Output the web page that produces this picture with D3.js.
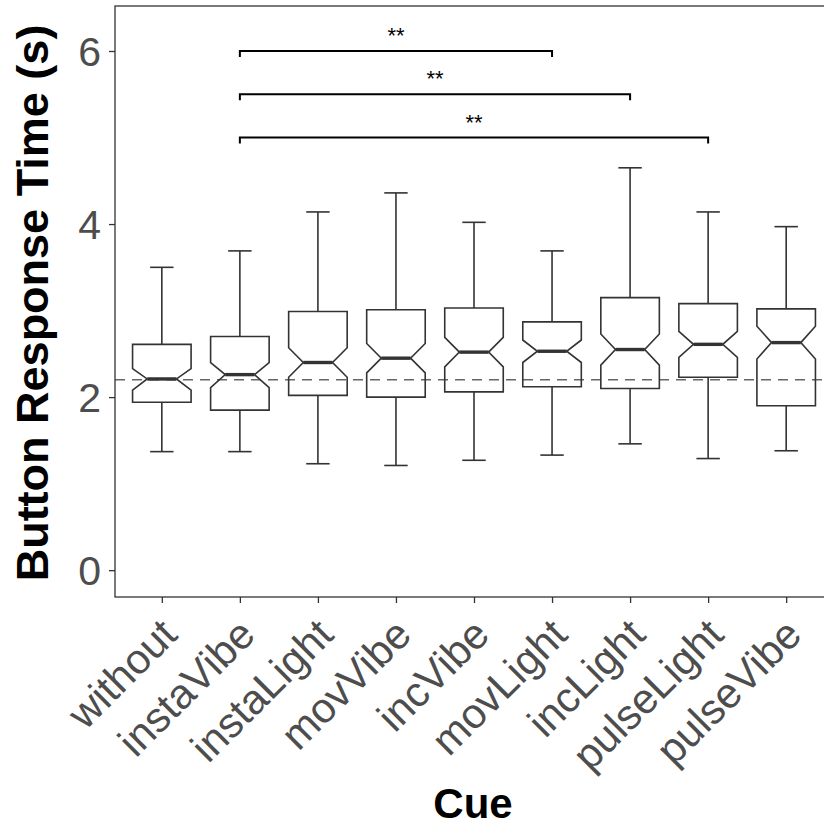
<!DOCTYPE html>
<html>
<head>
<meta charset="utf-8">
<script src="https://cdn.jsdelivr.net/npm/d3@7"></script>
<style>
  html, body { margin: 0; padding: 0; background: #fff; }
  svg { display: block; font-family: "Liberation Sans", Arial, Helvetica, sans-serif; }
</style>
</head>
<body>
<svg id="chart" width="824" height="828"></svg>
<script>
// Cue conditions (x categories)
const cues = ["without", "instaVibe", "instaLight", "movVibe", "incVibe",
              "movLight", "incLight", "pulseLight", "pulseVibe"];

// Five-number summaries and notch bounds per cue (seconds)
const whiskerLow  = [1.37, 1.37, 1.23, 1.21, 1.27, 1.33, 1.46, 1.29, 1.38];
const q1          = [1.94, 1.85, 2.02, 2.00, 2.06, 2.12, 2.10, 2.23, 1.90];
const notchLow    = [2.08, 2.11, 2.23, 2.28, 2.35, 2.40, 2.37, 2.46, 2.44];
const medians     = [2.21, 2.26, 2.40, 2.45, 2.52, 2.53, 2.55, 2.61, 2.63];
const notchHigh   = [2.33, 2.40, 2.57, 2.62, 2.69, 2.66, 2.73, 2.76, 2.82];
const q3          = [2.61, 2.70, 2.99, 3.01, 3.03, 2.87, 3.15, 3.08, 3.02];
const whiskerHigh = [3.50, 3.69, 4.14, 4.36, 4.02, 3.69, 4.65, 4.14, 3.97];

// Reference response time
const referenceLine = 2.2;

// Pairwise significance brackets
const bracketFrom  = ["instaVibe", "instaVibe", "instaVibe"];
const bracketTo    = ["movLight", "incLight", "pulseLight"];
const bracketY     = [6.0, 5.5, 5.0];
const bracketLabel = ["**", "**", "**"];

const yTicks = [0, 2, 4, 6];

const svg = d3.select("#chart");
const panel = { left: 115, top: 6, right: 833, bottom: 597 };

const x = d3.scalePoint().domain(cues).range([panel.left, panel.right]).padding(0.6);
const step = x.step();
const y = d3.scaleLinear().domain([-0.31, 6.52]).range([panel.bottom, panel.top]);

const ink = "#333333";
const tickText = "#4d4d4d";

// Reference dashed line
svg.append("line")
  .attr("x1", panel.left).attr("x2", panel.right)
  .attr("y1", y(referenceLine)).attr("y2", y(referenceLine))
  .attr("stroke", "#666").attr("stroke-width", 1.4)
  .attr("stroke-dasharray", "10,7");

// Boxes
const boxW = step * 0.75, capW = step * 0.3, notchInset = boxW * 0.25;
const data = cues.map((c, i) => ({
  cue: c, lo: whiskerLow[i], q1: q1[i], nl: notchLow[i], med: medians[i],
  nh: notchHigh[i], q3: q3[i], hi: whiskerHigh[i]
}));

const g = svg.append("g");
data.forEach(d => {
  const cx = x(d.cue), x0 = cx - boxW / 2, x1 = cx + boxW / 2;
  const grp = g.append("g");
  // whiskers
  grp.append("line").attr("x1", cx).attr("x2", cx).attr("y1", y(d.q3)).attr("y2", y(d.hi))
    .attr("stroke", ink).attr("stroke-width", 1.6);
  grp.append("line").attr("x1", cx).attr("x2", cx).attr("y1", y(d.q1)).attr("y2", y(d.lo))
    .attr("stroke", ink).attr("stroke-width", 1.6);
  [d.hi, d.lo].forEach(v => {
    grp.append("line").attr("x1", cx - capW / 2).attr("x2", cx + capW / 2)
      .attr("y1", y(v)).attr("y2", y(v)).attr("stroke", ink).attr("stroke-width", 1.6);
  });
  // notched box outline
  const pts = [
    [x0, y(d.q3)], [x0, y(d.nh)], [x0 + notchInset, y(d.med)], [x0, y(d.nl)], [x0, y(d.q1)],
    [x1, y(d.q1)], [x1, y(d.nl)], [x1 - notchInset, y(d.med)], [x1, y(d.nh)], [x1, y(d.q3)]
  ];
  grp.append("path").attr("d", d3.line()(pts) + "Z")
    .attr("fill", "none").attr("stroke", ink).attr("stroke-width", 1.6)
    .attr("stroke-linejoin", "miter");
  // median
  grp.append("line").attr("x1", x0 + notchInset).attr("x2", x1 - notchInset)
    .attr("y1", y(d.med)).attr("y2", y(d.med)).attr("stroke", ink).attr("stroke-width", 3.4);
});

// Significance brackets
const tip = 0.07;
bracketFrom.forEach((f, i) => {
  const xa = x(f), xb = x(bracketTo[i]), yy = y(bracketY[i]), yt = y(bracketY[i] - tip);
  svg.append("path").attr("d", `M${xa},${yt}V${yy}H${xb}V${yt}`)
    .attr("fill", "none").attr("stroke", "#000").attr("stroke-width", 2);
  svg.append("text").attr("x", (xa + xb) / 2).attr("y", yy - 8)
    .attr("text-anchor", "middle").attr("font-size", 22).attr("fill", "#000")
    .text(bracketLabel[i]);
});

// Panel border (top, left, bottom; right side lies beyond the canvas)
svg.append("rect").attr("x", panel.left).attr("y", panel.top)
  .attr("width", panel.right - panel.left).attr("height", panel.bottom - panel.top)
  .attr("fill", "none").attr("stroke", ink).attr("stroke-width", 1.3);

// Y axis
const yAxis = svg.append("g").attr("transform", `translate(${panel.left},0)`)
  .call(d3.axisLeft(y).tickValues(yTicks).tickSize(6).tickPadding(8).tickFormat(d3.format("d")));
yAxis.select(".domain").remove();
yAxis.selectAll(".tick line").attr("stroke", ink).attr("stroke-width", 1.3);
yAxis.selectAll(".tick text").attr("font-size", 41).attr("fill", tickText)
  .attr("font-family", "Liberation Sans, Arial, sans-serif").attr("dy", "0.36em");

// X axis
const xAxis = svg.append("g").attr("transform", `translate(0,${panel.bottom})`)
  .call(d3.axisBottom(x).tickSize(6).tickFormat(""));
xAxis.select(".domain").remove();
xAxis.selectAll(".tick line").attr("stroke", ink).attr("stroke-width", 1.3);
xAxis.selectAll(".tick").append("text")
  .attr("transform", "translate(17,40) rotate(-45)")
  .attr("text-anchor", "end").attr("font-size", 42).attr("fill", tickText)
  .attr("font-family", "Liberation Sans, Arial, sans-serif")
  .text(d => d);

// Axis titles
svg.append("text").attr("x", 473).attr("y", 818).attr("text-anchor", "middle")
  .attr("font-size", 42).attr("font-weight", "bold").attr("fill", "#000").text("Cue");
svg.append("text").attr("transform", "translate(48,303) rotate(-90)")
  .attr("text-anchor", "middle").attr("font-size", 45).attr("font-weight", "bold")
  .attr("fill", "#000").text("Button Response Time (s)");
</script>
</body>
</html>
